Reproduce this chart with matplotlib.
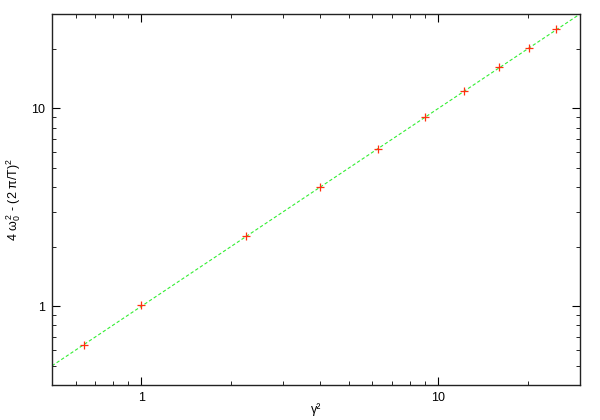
import matplotlib
matplotlib.use("Agg")
import matplotlib.pyplot as plt
from matplotlib.ticker import LogLocator, FixedLocator, NullFormatter, FixedFormatter

plt.rcParams['font.family'] = ['Liberation Sans', 'DejaVu Sans']
plt.rcParams['mathtext.fontset'] = 'custom'
plt.rcParams['mathtext.rm'] = 'Liberation Sans'
plt.rcParams['mathtext.it'] = 'Liberation Sans'
plt.rcParams['mathtext.default'] = 'regular'

gamma_sq = [0.64, 1.0, 2.25, 4.0, 6.25, 9.0, 12.25, 16.0, 20.25, 25.0]
omega_val = [0.635, 1.02, 2.26, 4.0, 6.25, 9.0, 12.3, 16.1, 20.3, 25.2]
fit_x = [0.5, 30.0]
fit_y = [0.5, 30.0]
major_ticks = [1, 10]
major_labels = ['1', '10']

fig = plt.figure(figsize=(6, 4.2), dpi=100)
ax = fig.add_axes([52/600, 1-385/420, 528/600, 371/420])

ax.plot(fit_x, fit_y, color='#33ee33', lw=0.8, dashes=(3, 2), zorder=2)
ax.plot(gamma_sq, omega_val, ls='none', marker='+', color='#ff3010', ms=5.5, mew=0.9, zorder=3)

ax.set_xscale('log')
ax.set_yscale('log')
ax.set_xlim(0.5, 30)
ax.set_ylim(0.4, 30)

for axis in (ax.xaxis, ax.yaxis):
    axis.set_major_locator(FixedLocator(major_ticks))
    axis.set_major_formatter(FixedFormatter(major_labels))
    axis.set_minor_locator(LogLocator(base=10, subs=range(2, 10)))
    axis.set_minor_formatter(NullFormatter())

ax.tick_params(which='both', direction='in', top=True, right=True, labelsize=9, colors='black')
ax.tick_params(which='major', length=6, width=0.8, pad=5)
ax.tick_params(which='minor', length=3, width=0.6)
for s in ax.spines.values():
    s.set_linewidth(1.0)
    s.set_color('#222222')

ax.set_xlabel('γ²', fontsize=9)
ax.xaxis.set_label_coords(0.5, -0.05)
ax.set_ylabel(r'4 $\omega_0^{\,2}$ - (2 $\pi$/T)$^2$', fontsize=9, labelpad=6)

fig.savefig('out.png', dpi=100)
